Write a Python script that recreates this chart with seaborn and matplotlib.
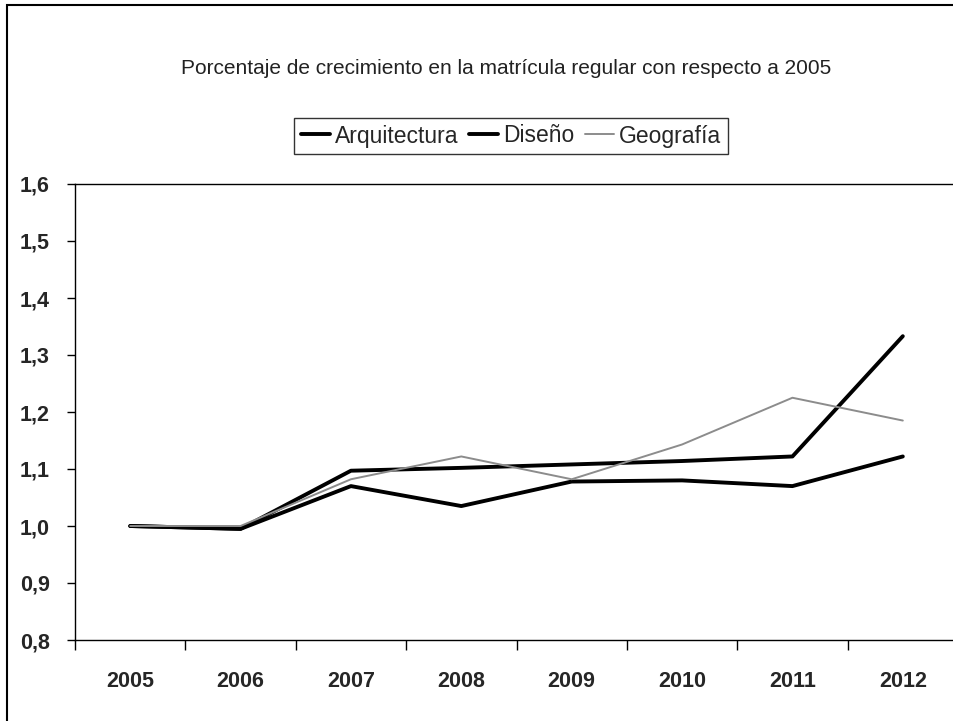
import numpy as np
import pandas as pd
import seaborn as sns
from matplotlib import pyplot as plt
from matplotlib.patches import Rectangle

years = ["2005", "2006", "2007", "2008", "2009", "2010", "2011", "2012"]
arquitectura = [1.000, 0.995, 1.097, 1.102, 1.108, 1.114, 1.122, 1.333]
diseno = [1.000, 0.995, 1.070, 1.035, 1.078, 1.080, 1.070, 1.122]
geografia = [1.000, 1.000, 1.082, 1.122, 1.082, 1.143, 1.225, 1.185]
series_names = ["Arquitectura", "Diseño", "Geografía"]
y_ticks = [0.8, 0.9, 1.0, 1.1, 1.2, 1.3, 1.4, 1.5, 1.6]

rows = []
for name, vals in zip(series_names, [arquitectura, diseno, geografia]):
    for i, v in enumerate(vals):
        rows.append({"idx": i, "year": years[i], "valor": v, "serie": name})
df = pd.DataFrame(rows)

sns.set_style("white")
plt.rcParams["font.family"] = ["Liberation Sans", "DejaVu Sans"]

fig = plt.figure(figsize=(9.54, 7.21), dpi=100, facecolor="white")
ax = fig.add_axes([75 / 954, 81 / 721, 883 / 954, 456 / 721])

palette = {"Arquitectura": "black", "Diseño": "black", "Geografía": "#8c8c8c"}
widths = {"Arquitectura": 2.8, "Diseño": 2.8, "Geografía": 1.4}
sns.lineplot(data=df, x="idx", y="valor", hue="serie", hue_order=series_names,
             palette=palette, ax=ax, legend=False)
for line, name in zip(ax.get_lines(), series_names):
    line.set_linewidth(widths[name])

ax.set_xlim(-0.5, 7.5)
ax.set_ylim(0.8, 1.6)
ax.set_xticks(np.arange(-0.5, 7.6, 1.0))
ax.set_xticklabels([])
ax.set_xticks(np.arange(len(years)), minor=True)
ax.set_xticklabels(years, minor=True, fontsize=15.5, fontweight="bold")
ax.tick_params(axis="x", which="major", length=7, width=1, direction="out",
               bottom=True, color="black")
ax.tick_params(axis="x", which="minor", length=0, pad=22)
ax.set_yticks(y_ticks)
ax.set_yticklabels([f"{t:.1f}".replace(".", ",") for t in y_ticks],
                   fontsize=15.5, fontweight="bold")
ax.tick_params(axis="y", length=6, width=1, direction="out", left=True,
               color="black", pad=12)
ax.set_xlabel("")
ax.set_ylabel("")
for side in ["left", "bottom", "top"]:
    ax.spines[side].set_color("black")
    ax.spines[side].set_linewidth(1.0)
ax.spines["right"].set_visible(False)

fig.text(506 / 954, 1 - 68 / 721,
         "Porcentaje de crecimiento en la matrícula regular con respecto a 2005",
         ha="center", va="center", fontsize=15, color="#222222")

handles = [plt.Line2D([], [], color=palette[n], lw=widths[n]) for n in series_names]
leg = fig.legend(handles, series_names, loc="center", ncol=3,
                 bbox_to_anchor=(511 / 954, 1 - 136 / 721), fontsize=16.5,
                 frameon=True, fancybox=False, handlelength=1.25,
                 handletextpad=0.2, columnspacing=0.5, borderpad=0.3,
                 borderaxespad=0)
leg.get_frame().set_edgecolor("black")
leg.get_frame().set_linewidth(1.0)

fig.patches.append(Rectangle((7 / 954, -0.1), 1.2, 1.1 - 5 / 721,
                             transform=fig.transFigure, fill=False,
                             edgecolor="black", linewidth=1.5))

fig.savefig("out.png", dpi=100)
